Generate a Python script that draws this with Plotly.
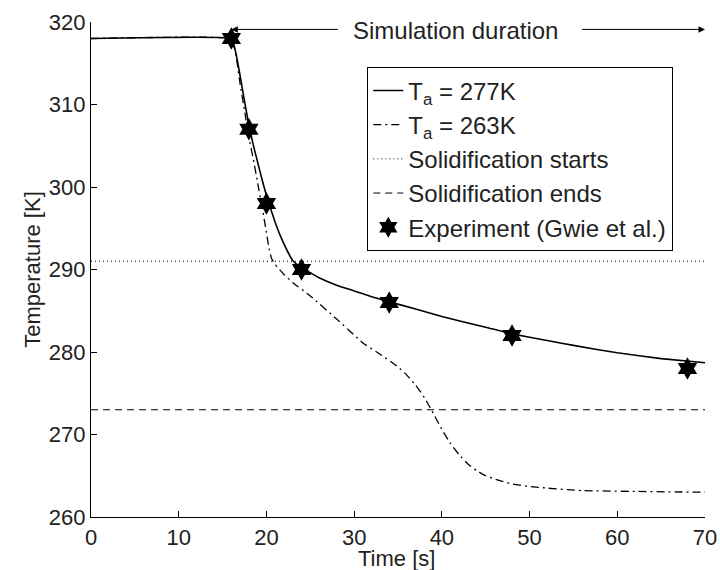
import plotly.graph_objects as go

# Simulated curves
t_277 = [0, 16, 16.3, 16.6, 17, 17.5, 18, 18.5, 19, 19.5, 20, 20.5, 21, 21.5, 22, 22.5, 23, 23.5, 24, 25, 26, 28, 30, 32, 34, 37, 40, 45, 48, 52, 55, 60, 65, 70]
T_277 = [318, 318, 317.2, 315.8, 313.5, 310.4, 307.5, 305.1, 303, 300.9, 299, 297.3, 295.7, 294.3, 293.1, 292, 291.1, 290.6, 290.2, 289.6, 289, 288.1, 287.4, 286.7, 286.1, 285.2, 284.3, 283, 282.2, 281.4, 280.8, 279.9, 279.2, 278.7]

t_263 = [0, 16, 16.3, 16.6, 17, 17.5, 18, 18.5, 19, 19.5, 20, 20.3, 20.6, 21, 22, 23, 25, 28, 31, 33, 35, 36, 37, 38, 39, 40, 41, 42, 43, 44, 45, 46, 48, 50, 52, 56, 62, 70]
T_263 = [318, 318, 317, 315.5, 312.5, 309.3, 306, 303.4, 300.5, 297.6, 294.5, 292.5, 291.3, 290.6, 289.4, 288.4, 286.8, 284, 281.1, 279.7, 278.2, 277.2, 276, 274.5, 272.6, 270.6, 268.9, 267.5, 266.4, 265.6, 265, 264.6, 264, 263.7, 263.5, 263.2, 263.1, 263]

# Experiment (Gwie et al.)
t_exp = [16, 18, 20, 24, 34, 48, 68]
T_exp = [318, 307, 298, 290, 286, 282, 278]

T_solid_start = 291
T_solid_end = 273
t_range = [0, 70]

FONT = "Liberation Sans, Arial, Helvetica, sans-serif"
FS = 24
TFS = 22

fig = go.Figure()
fig.add_trace(go.Scatter(x=t_277, y=T_277, mode="lines", name="T<sub>a</sub> = 277K",
                         line=dict(color="black", width=1.6, shape="spline", smoothing=0.3),
                         legendgroup="a"))
fig.add_trace(go.Scatter(x=t_263, y=T_263, mode="lines", name="T<sub>a</sub> = 263K",
                         line=dict(color="black", width=1.3, dash="8px,4px,2px,4px", shape="spline", smoothing=0.3),
                         legendgroup="b"))
fig.add_trace(go.Scatter(x=t_range, y=[T_solid_start] * 2, mode="lines", name="Solidification starts",
                         line=dict(color="black", width=1, dash="1px,3px"), legendgroup="c"))
fig.add_trace(go.Scatter(x=t_range, y=[T_solid_end] * 2, mode="lines", name="Solidification ends",
                         line=dict(color="black", width=1, dash="7px,5px"), legendgroup="d"))
fig.add_trace(go.Scatter(x=t_exp, y=T_exp, mode="markers", name="Experiment (Gwie et al.)",
                         marker=dict(symbol="hexagram", size=17, color="black", line=dict(width=0)),
                         legendgroup="e"))

fig.add_annotation(x=41.5, y=319.0, text="Simulation duration", showarrow=False,
                   font=dict(size=FS, color="#222", family=FONT))
fig.add_annotation(x=16, y=319.1, ax=28.3, ay=319.1, axref="x", ayref="y", xref="x", yref="y",
                   text="", showarrow=True, arrowhead=2, arrowsize=1.3, arrowwidth=1, arrowcolor="black")
fig.add_annotation(x=70, y=319.1, ax=55.8, ay=319.1, axref="x", ayref="y", xref="x", yref="y",
                   text="", showarrow=True, arrowhead=2, arrowsize=1.3, arrowwidth=1, arrowcolor="black")
# x-axis title
fig.add_annotation(x=0.498, y=-0.083, xref="paper", yref="paper", text="Time [s]", showarrow=False,
                   yanchor="middle", font=dict(size=TFS, color="#222", family=FONT))

fig.update_layout(
    width=720, height=570,
    margin=dict(l=91, r=15, t=22, b=53),
    plot_bgcolor="white", paper_bgcolor="white",
    font=dict(family=FONT, color="#222", size=FS),
    legend=dict(x=0.4495, y=0.909, xanchor="left", yanchor="top",
                bordercolor="black", borderwidth=1.3, bgcolor="white",
                font=dict(size=FS, family=FONT), traceorder="grouped", tracegroupgap=0,
                itemwidth=30),
    showlegend=True,
)
fig.update_xaxes(range=[0, 70], tickvals=[0, 10, 20, 30, 40, 50, 60, 70],
                 ticks="inside", ticklen=6, tickcolor="black", showline=True, linecolor="black",
                 linewidth=1.2, showgrid=False, zeroline=False, automargin=False,
                 tickfont=dict(size=TFS))
fig.update_yaxes(range=[260, 320], tickvals=[260, 270, 280, 290, 300, 310, 320],
                 ticks="inside", ticklen=6, tickcolor="black", showline=True, linecolor="black",
                 linewidth=1.2, showgrid=False, zeroline=False, automargin=False,
                 title=dict(text="Temperature [K]", standoff=2, font=dict(size=TFS)),
                 tickfont=dict(size=TFS))

fig.write_html("out.html")
